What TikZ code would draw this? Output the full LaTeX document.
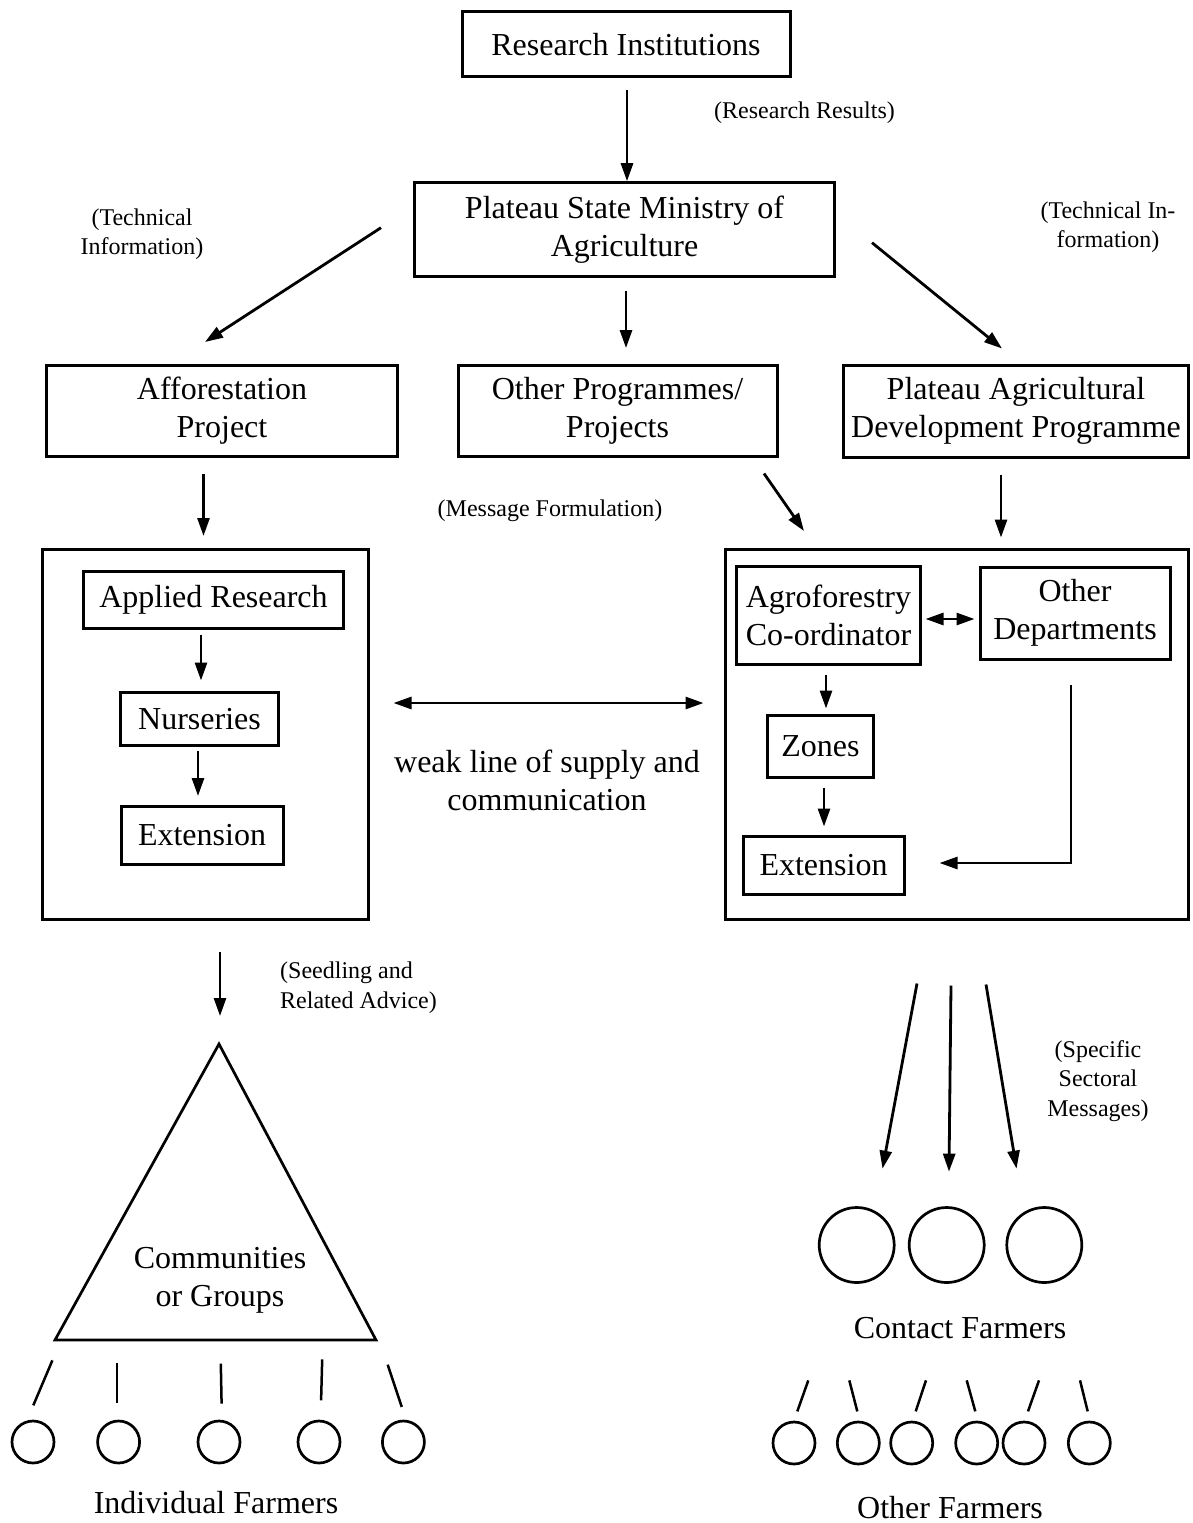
\documentclass[tikz,border=0pt]{standalone}
\usepackage{fontspec}
\setmainfont{Liberation Serif}
\usetikzlibrary{arrows.meta,calc}
\tikzset{
  box/.style={draw, line width=3pt, inner sep=0pt, align=center, font=\fontsize{32}{38}\selectfont},
  arr/.style={line width=2.8pt, -{Triangle[length=18pt,width=12pt]}},
  darr/.style={line width=2.8pt, {Triangle[length=18pt,width=12pt]}-{Triangle[length=18pt,width=12pt]}},
  small/.style={align=center, inner sep=0pt, font=\fontsize{24}{29.5}\selectfont},
  big/.style={align=center, inner sep=0pt, font=\fontsize{32}{38}\selectfont},
  farmer/.style={circle, draw, line width=2.7pt, inner sep=0pt},
  tick/.style={line width=2.5pt}
}
\begin{document}
\begin{tikzpicture}[x=1pt,y=-1pt]
\useasboundingbox[fill=white] (0,0) rectangle (1192,1523);

% top boxes
\node[box, minimum width=328, minimum height=65] (ri) at (626,44.3) {Research Institutions};
\node[box, minimum width=420, minimum height=94] (min) at (624.5,229.7) {Plateau State Ministry of\\Agriculture};
\node[box, minimum width=351, minimum height=91] (aff) at (222,411) {Afforestation\\Project};
\node[box, minimum width=319, minimum height=91] (oth) at (617.5,411) {Other Programmes/\\Projects};
\node[box, minimum width=345, minimum height=92] (padp) at (1016,411) {Plateau Agricultural\\Development Programme};

% big boxes
\node[box, minimum width=326, minimum height=370] (lbox) at (205,734.5) {};
\node[box, minimum width=463, minimum height=370] (rbox) at (956.5,734.5) {};

% left inner
\node[box, minimum width=260, minimum height=57] (ar) at (213.5,599.5) {Applied Research};
\node[box, minimum width=158, minimum height=53] (nur) at (199.5,719) {Nurseries};
\node[box, minimum width=162, minimum height=58] (lext) at (202,835) {Extension};

% right inner
\node[box, minimum width=184, minimum height=98] (agro) at (828.5,615) {Agroforestry\\Co-ordinator};
\node[box, minimum width=190, minimum height=92] (odep) at (1075,613) {Other\\Departments};
\node[box, minimum width=106, minimum height=62] (zones) at (820.5,746) {Zones};
\node[box, minimum width=161, minimum height=58] (rext) at (823.5,865) {Extension};

% labels
\node[small] (lrr) at (804.5,113) {(Research Results)};
\node[small] (lti1) at (142,234) {(Technical\\Information)};
\node[small] (lti2) at (1108,227) {(Technical In-\\formation)};
\node[small] (lmf) at (550,511) {(Message Formulation)};
\node[small, anchor=west, align=left] (lsr) at (280,987.5) {(Seedling and\\Related Advice)};
\node[small] (lssm) at (1098,1081) {(Specific\\Sectoral\\Messages)};
\node[big] (lweak) at (547,780) {weak line of supply and\\communication};

% arrows top
\draw[arr] ($(ri.south)+(1,12)$) -- ($(min.north)+(2.5,0)$);
\draw[arr] ($(min.west)+(-32,-2)$) -- ($(aff.north)+(-17,-22)$);
\draw[arr] ($(min.south)+(1.5,13)$) -- ($(oth.north)+(8.5,-16)$);
\draw[arr] ($(min.east)+(36,13)$) -- ($(padp.north)+(-14,-15)$);
\draw[arr] ($(aff.south)+(-18.5,15.5)$) -- ($(lbox.north)+(-1.5,-12)$);
\draw[arr] ($(oth.south)+(146.5,15.5)$) -- ($(rbox.north)+(-152.5,-17)$);
\draw[arr] ($(padp.south)+(-15,16)$) -- ($(rbox.north)+(44.5,-10.5)$);

% inner arrows
\draw[arr] ($(ar.south)+(-12.5,5)$) -- ($(nur.north)+(1.5,-10.5)$);
\draw[arr] ($(nur.south)+(-1.5,4)$) -- ($(lext.north)+(-4,-8.5)$);
\draw[darr] ($(agro.east)+(3.5,4)$) -- ($(odep.west)+(-4,6)$);
\draw[arr] ($(agro.south)+(-2.5,9)$) -- ($(zones.north)+(5.5,-5)$);
\draw[arr] ($(zones.south)+(3.5,9)$) -- ($(rext.north)+(0.5,-8)$);
\draw[arr] ($(odep.south)+(-4,24)$) |- ($(rext.east)+(34,-2)$);

% weak line
\draw[darr] ($(lbox.east)+(24,-31.5)$) -- ($(rbox.west)+(-20,-31.5)$);

% triangle
\coordinate (apex) at (219,1044);
\coordinate (bl) at (55,1340);
\coordinate (br) at (376,1340);
\draw[line width=2.7pt, line join=miter] (apex) -- (bl) -- (br) -- cycle;
\node[big] (lcg) at (220,1280) {Communities\\or Groups};
\draw[arr] ($(lbox.south)+(15,30.5)$) -- ($(apex)+(1,-28)$);

% contact farmers
\node[farmer, minimum size=75] (c1) at (856.7,1245) {};
\node[farmer, minimum size=75] (c2) at (946.7,1245) {};
\node[farmer, minimum size=75] (c3) at (1044.3,1245) {};
\node[big] (lcf) at (960,1328) {Contact Farmers};
\draw[arr] ($(rbox.south)+(-39.5,62.5)$) -- ($(c1.north)+(25.8,-37.5)$);
\draw[arr] ($(rbox.south)+(-5.5,64.5)$) -- ($(c2.north)+(2.3,-34.5)$);
\draw[arr] ($(rbox.south)+(29.5,63.5)$) -- ($(c3.north)+(-27.8,-37.5)$);

% individual farmers
\node[farmer, minimum size=42] (f1) at (33,1442) {};
\node[farmer, minimum size=42] (f2) at (118.6,1442) {};
\node[farmer, minimum size=42] (f3) at (219,1442) {};
\node[farmer, minimum size=42] (f4) at (319,1442) {};
\node[farmer, minimum size=42] (f5) at (403.4,1442) {};
\node[big] (lif) at (216,1503) {Individual Farmers};
\draw[tick] ($(f1.north)+(19.4,-59.3)$) -- ($(f1.north)+(0.3,-14.3)$);
\draw[tick] ($(f2.north)+(-1.5,-57)$) -- ($(f2.north)+(-1.5,-16.7)$);
\draw[tick] ($(f3.north)+(1.8,-56)$) -- ($(f3.north)+(2.6,-16)$);
\draw[tick] ($(f4.north)+(3.2,-60.3)$) -- ($(f4.north)+(2.1,-19.3)$);
\draw[tick] ($(f5.north)+(-15.7,-55)$) -- ($(f5.north)+(-1.6,-12.7)$);

% other farmers
\node[farmer, minimum size=42] (g1) at (794,1443) {};
\node[farmer, minimum size=42] (g2) at (858.3,1443) {};
\node[farmer, minimum size=42] (g3) at (911.7,1443) {};
\node[farmer, minimum size=42] (g4) at (976.7,1443) {};
\node[farmer, minimum size=42] (g5) at (1024,1443) {};
\node[farmer, minimum size=42] (g6) at (1089.3,1443) {};
\node[big] (lof) at (950,1508) {Other Farmers};
\draw[tick] ($(g1.north)+(14.3,-40.3)$) -- ($(g1.north)+(3.3,-9.3)$);
\draw[tick] ($(g2.north)+(-9,-40.3)$) -- ($(g2.north)+(-1,-9.3)$);
\draw[tick] ($(g3.north)+(14.3,-40.3)$) -- ($(g3.north)+(4,-9.3)$);
\draw[tick] ($(g4.north)+(-10,-40.3)$) -- ($(g4.north)+(-1.4,-9.3)$);
\draw[tick] ($(g5.north)+(15,-40.3)$) -- ($(g5.north)+(4,-9.3)$);
\draw[tick] ($(g6.north)+(-9.3,-40.3)$) -- ($(g6.north)+(-1.6,-9.3)$);
\end{tikzpicture}
\end{document}
